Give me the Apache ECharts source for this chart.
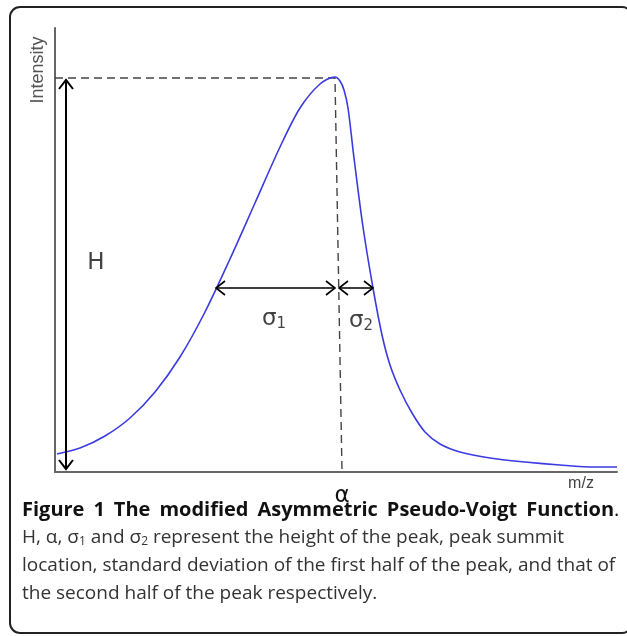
<!DOCTYPE html>
<html>
<head>
<meta charset="utf-8">
<script src="https://cdn.jsdelivr.net/npm/echarts@6/dist/echarts.min.js"></script>
<style>
  html, body { margin: 0; padding: 0; background: #fff; }
  #main { width: 627px; height: 636px; }
</style>
</head>
<body>
<div id="main"></div>
<script>
// curve (m/z, intensity), arbitrary units
const mz = [2, 25, 50, 75, 100, 125, 150, 175, 200, 225, 245, 265, 280, 285, 289, 293, 299, 308, 318, 327, 335, 345, 357, 370, 385, 405, 435, 470, 505, 540, 562];
const intensity = [18, 24, 36, 54, 80, 115, 160, 213, 269, 325, 364, 388, 395, 391, 382, 364, 314, 245, 184, 137, 107, 82, 59, 40, 28, 20, 14, 10, 7, 5, 5];

// peak parameters
const peakX = 280;      // alpha (summit location)
const peakH = 394;      // H
const alphaFoot = 287;  // where the dashed drop line hits the axis
const sigmaY = 184;     // height of the sigma arrows
const sigma1Left = 161;
const sigma2Right = 318;

const curve = mz.map((x, i) => [x, intensity[i]]);

// arrows: [x1, y1, x2, y2, width]
const arrows = [
  [11, 3, 11, peakH - 2, 2],
  [sigma1Left, sigmaY, peakX, sigmaY, 1.6],
  [peakX + 4, sigmaY, sigma2Right, sigmaY, 1.6]
];

// text labels placed in data space
const labels = [
  [41, 209, 'H'],
  [219, 153, 'σ{sub|1}'],
  [306, 151, 'σ{sub|2}']
];

const titleWords = ['Figure', '1', 'The', 'modified', 'Asymmetric', 'Pseudo-Voigt', 'Function'];

const myechart = echarts.init(document.getElementById('main'));

const option = {
  animation: false,
  grid: { left: 55, right: 10, top: 28, bottom: 164 },
  xAxis: {
    type: 'value',
    min: 0,
    max: 562,
    axisLine: { show: true, lineStyle: { color: '#666', width: 2 } },
    axisTick: { show: false },
    splitLine: { show: false },
    axisLabel: {
      customValues: [alphaFoot],
      formatter: () => 'α',
      margin: 13,
      fontFamily: 'DejaVu Sans',
      fontSize: 23,
      color: '#111'
    }
  },
  yAxis: {
    type: 'value',
    min: 0,
    max: 444,
    axisLine: { show: true, lineStyle: { color: '#666', width: 2 } },
    axisTick: { show: false },
    axisLabel: { show: false },
    splitLine: { show: false }
  },
  series: [
    {
      // dashed guide: from the y axis to the summit, then down to the x axis
      type: 'line',
      data: [[0, peakH], [peakX, peakH], [alphaFoot, 0]],
      showSymbol: false,
      silent: true,
      lineStyle: { color: '#444', width: 1.4, type: [8, 5] },
      z: 1
    },
    {
      name: 'Pseudo-Voigt',
      type: 'line',
      data: curve,
      smooth: 0.3,
      showSymbol: false,
      lineStyle: { color: '#3b3be0', width: 1.6 },
      z: 3
    },
    {
      type: 'custom',
      data: arrows,
      encode: { x: [0, 2], y: [1, 3] },
      silent: true,
      z: 4,
      renderItem: function (params, api) {
        const p1 = api.coord([api.value(0), api.value(1)]);
        const p2 = api.coord([api.value(2), api.value(3)]);
        const w = api.value(4);
        const dx = p2[0] - p1[0], dy = p2[1] - p1[1];
        const len = Math.sqrt(dx * dx + dy * dy);
        const ux = dx / len, uy = dy / len;
        const hl = 9, hw = 7;
        const head = (tip, sx, sy) => [
          [tip[0] - sx * hl - uy * hw, tip[1] - sy * hl + ux * hw],
          tip,
          [tip[0] - sx * hl + uy * hw, tip[1] - sy * hl - ux * hw]
        ];
        const st = { stroke: '#000', lineWidth: w, fill: null };
        return {
          type: 'group',
          children: [
            { type: 'line', shape: { x1: p1[0], y1: p1[1], x2: p2[0], y2: p2[1] }, style: st },
            { type: 'polyline', shape: { points: head(p2, ux, uy) }, style: st },
            { type: 'polyline', shape: { points: head(p1, -ux, -uy) }, style: st }
          ]
        };
      }
    },
    {
      type: 'scatter',
      data: labels,
      symbolSize: 0,
      silent: true,
      label: {
        show: true,
        position: 'inside',
        formatter: p => p.data[2],
        fontFamily: 'DejaVu Sans',
        fontSize: 23,
        color: '#111',
        rich: {
          sub: { fontFamily: 'DejaVu Sans', fontSize: 15, color: '#111', verticalAlign: 'bottom', padding: [10, 0, 0, 0] }
        }
      }
    }
  ],
  graphic: [
    {
      type: 'rect',
      shape: { x: 10, y: 7, width: 622, height: 626, r: 10 },
      style: { fill: null, stroke: '#222', lineWidth: 2 },
      silent: true
    },
    {
      type: 'text',
      x: 38, y: 70,
      rotation: Math.PI / 2,
      style: {
        text: 'Intensity',
        align: 'center', verticalAlign: 'middle',
        font: '18px "Liberation Sans", Arial, sans-serif',
        fill: '#555'
      }
    },
    {
      type: 'text',
      x: 581, y: 484,
      style: {
        text: 'm/z',
        align: 'center', verticalAlign: 'middle',
        font: '16px "Liberation Sans", Arial, sans-serif',
        fill: '#444'
      }
    },
    {
      type: 'text',
      x: 22, y: 510,
      style: {
        // justified title line: widened gaps between words
        text: titleWords.map(w => '{b|' + w + '}').join('{sp| }') + '.',
        verticalAlign: 'middle',
        font: '20px "Open Sans"',
        fill: '#111',
        rich: {
          b: { fontFamily: 'Open Sans', fontWeight: 'bold', fontSize: 20, fill: '#111' },
          sp: { fontFamily: 'Open Sans', fontSize: 20, width: 9 }
        }
      }
    },
    {
      type: 'text',
      x: 22, y: 538,
      style: {
        text: 'H, α, σ{s|1} and σ{s|2} represent the height of the peak, peak summit',
        verticalAlign: 'middle',
        font: '19px "Open Sans"',
        fill: '#333',
        rich: { s: { fontFamily: 'Open Sans', fontSize: 12, fill: '#333', padding: [7, 0, 0, 0] } }
      }
    },
    {
      type: 'text',
      x: 22, y: 566,
      style: {
        text: 'location, standard deviation of the first half of the peak, and that of',
        verticalAlign: 'middle',
        font: '19px "Open Sans"',
        fill: '#333'
      }
    },
    {
      type: 'text',
      x: 22, y: 594,
      style: {
        text: 'the second half of the peak respectively.',
        verticalAlign: 'middle',
        font: '19px "Open Sans"',
        fill: '#333'
      }
    }
  ]
};

myechart.setOption(option);
</script>
</body>
</html>
